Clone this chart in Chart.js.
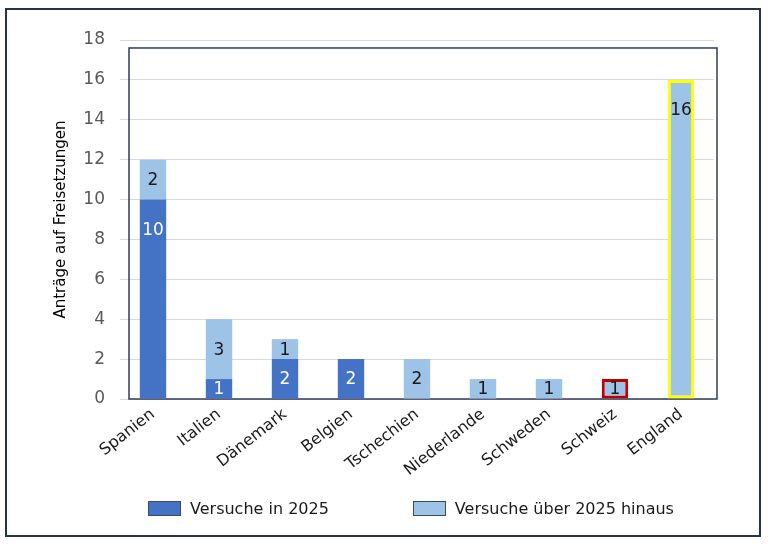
<!DOCTYPE html>
<html>
<head>
<meta charset="utf-8">
<script src="https://cdn.jsdelivr.net/npm/chart.js@4.4.1/dist/chart.umd.min.js"></script>
<style>
  body { margin: 0; background: #fff; }
  #wrap { position: relative; width: 768px; height: 547px; }
  #frame { position: absolute; left: 5px; top: 8px; width: 752px; height: 525px;
           border: 2px solid #27334d; pointer-events: none; }
  #legend { position: absolute; left: 148px; top: 499px; display: flex; gap: 84px;
            font: 16px "DejaVu Sans", sans-serif; color: #1a1a1a; }
  .item { display: flex; align-items: center; }
  .box { width: 31px; height: 13px; border: 1px solid #3b4a6b; margin-right: 9px; }
</style>
</head>
<body>
<div id="wrap">
  <canvas id="myChart" width="768" height="547"></canvas>
  <div id="frame"></div>
  <div id="legend"></div>
</div>
<script>
const countries = ['Spanien', 'Italien', 'Dänemark', 'Belgien', 'Tschechien', 'Niederlande', 'Schweden', 'Schweiz', 'England']
const in2025 = [10, 1, 2, 2, 0, 0, 0, 0, 0]
const after2025 = [2, 3, 1, 0, 2, 1, 1, 1, 16]
const yMax = 18
const yStep = 2

const darkBlue = '#4472C4'
const lightBlue = '#9DC3E6'
// highlight borders: Schweiz red, England yellow
const lightBorders = ['#9DC3E6', '#9DC3E6', '#9DC3E6', '#9DC3E6', '#9DC3E6', '#9DC3E6', '#9DC3E6', '#C00000', '#FFFF00']
const lightBorderWidth = [0, 0, 0, 0, 0, 0, 0, 3, 3]

const font = '"DejaVu Sans", sans-serif'

const plotFrame = {
    id: 'plotFrame',
    beforeDatasetsDraw(chart) {
        const {ctx, chartArea, scales} = chart
        const top = scales.y.getPixelForValue(17.6)
        ctx.save()
        ctx.strokeStyle = '#2F3B5C'
        ctx.lineWidth = 1.5
        ctx.strokeRect(chartArea.left + 9, top, chartArea.right + 3 - chartArea.left - 9, chartArea.bottom - top)
        ctx.restore()
    }
}

const barLabels = {
    id: 'barLabels',
    afterDatasetsDraw(chart) {
        const {ctx} = chart
        ctx.save()
        ctx.font = '17px ' + font
        ctx.textAlign = 'center'
        ctx.textBaseline = 'middle'
        chart.data.datasets.forEach((ds, i) => {
            chart.getDatasetMeta(i).data.forEach((el, j) => {
                const v = ds.data[j]
                if (!v) return
                const top = Math.min(el.y, el.base)
                const bottom = Math.max(el.y, el.base)
                const y = Math.min((top + bottom) / 2, top + 30)
                ctx.fillStyle = i === 0 ? '#ffffff' : '#1a1a1a'
                ctx.fillText(String(v), el.x, y + 1)
            })
        })
        ctx.restore()
    }
}

const bar = {
    type: 'bar',
    data: {
        labels: countries,
        datasets: [
            {
                label: 'Versuche in 2025',
                data: in2025,
                backgroundColor: darkBlue,
                borderWidth: 0,
                barPercentage: 0.4,
                categoryPercentage: 1,
            },
            {
                label: 'Versuche über 2025 hinaus',
                data: after2025,
                backgroundColor: lightBlue,
                borderColor: lightBorders,
                borderWidth: lightBorderWidth,
                borderSkipped: false,
                barPercentage: 0.4,
                categoryPercentage: 1,
            },
        ]
    },
    options: {
        responsive: false,
        animation: false,
        layout: { padding: { left: 48, top: 40, right: 54, bottom: 48 } },
        plugins: {
            legend: { display: false },
            tooltip: { enabled: false },
        },
        scales: {
            x: {
                stacked: true,
                grid: { display: false, drawTicks: false },
                border: { display: false },
                ticks: {
                    color: '#1a1a1a',
                    font: { family: font, size: 16 },
                    minRotation: 38,
                    maxRotation: 38,
                    autoSkip: false,
                    padding: 6,
                },
                afterFit(scale) { scale.height = 100 },
            },
            y: {
                stacked: true,
                min: 0,
                max: yMax,
                grid: { color: '#D9D9D9', drawTicks: false },
                border: { display: false },
                ticks: {
                    stepSize: yStep,
                    color: '#595959',
                    font: { family: font, size: 17 },
                    padding: 15,
                },
                title: {
                    display: true,
                    text: 'Anträge auf Freisetzungen',
                    color: '#000',
                    font: { family: font, size: 15 },
                },
                afterFit(scale) { scale.width = 72 },
            },
        },
    },
    plugins: [plotFrame, barLabels],
}

const chart = new Chart(document.getElementById('myChart'), bar)

const legend = document.getElementById('legend')
bar.data.datasets.forEach(ds => {
    const item = document.createElement('div')
    item.className = 'item'
    const box = document.createElement('span')
    box.className = 'box'
    box.style.background = ds.backgroundColor
    const txt = document.createElement('span')
    txt.textContent = ds.label
    item.appendChild(box)
    item.appendChild(txt)
    legend.appendChild(item)
})
</script>
</body>
</html>
